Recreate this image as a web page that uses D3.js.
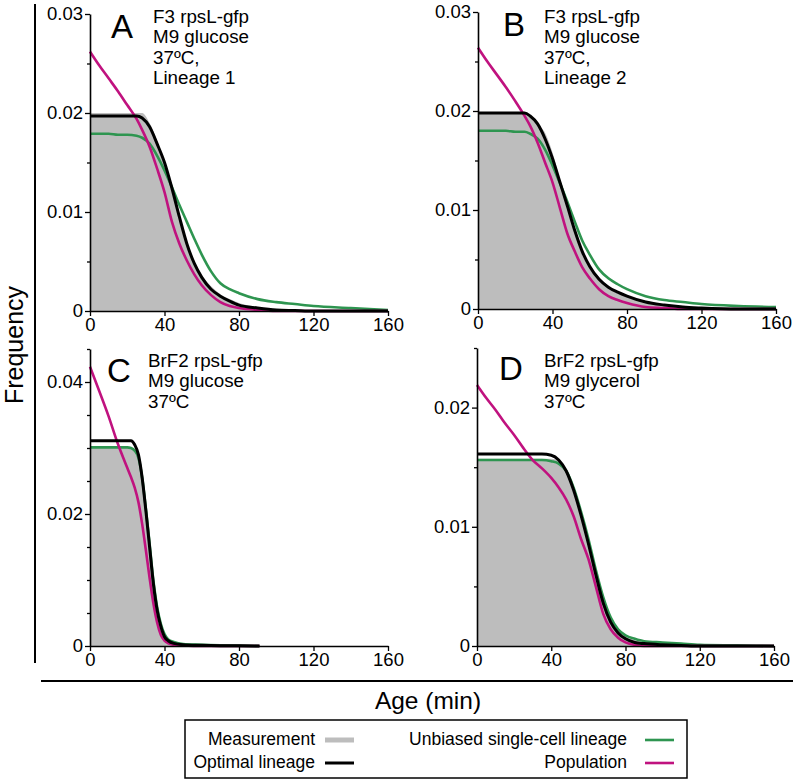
<!DOCTYPE html>
<html>
<head>
<meta charset="utf-8">
<script src="https://cdn.jsdelivr.net/npm/d3@7"></script>
<style>
  body { margin: 0; background: #fff; }
  svg text { font-family: "Liberation Sans", Arial, Helvetica, sans-serif; fill: #000; }
</style>
</head>
<body>
<div id="chart"></div>
<script>
//---------------- data ----------------//
// ages (min) used for each panel
var ageAB = [0,5,10,15,20,25,28,32,36,40,44,48,52,56,60,65,70,75,80,90,100,110,120,140,160];
var ageC  = [0,5,10,15,20,22,24,26,28,30,32,34,36,38,40,42,45,50,60,70,80,91];
var ageD  = [0,5,10,15,20,25,30,35,40,44,48,52,56,60,64,68,72,76,80,85,90,100,110,120,140,160];

// panel A
var measA = [0.0200,0.0200,0.0200,0.0200,0.0200,0.0200,0.0200,0.0190,0.0172,0.0150,0.0125,0.0097,0.0070,0.0050,0.0036,0.0025,0.0017,0.0012,0.0008,0.0004,0.0002,0.0001,0.00005,0,0];
var optA  = [0.0197,0.0197,0.0197,0.0197,0.0197,0.0197,0.0195,0.0186,0.0169,0.0150,0.0124,0.0095,0.0068,0.0048,0.0034,0.0022,0.0015,0.0010,0.0006,0.0003,0.0001,0.00005,0,0,0];
var unbA  = [0.0179,0.0179,0.0179,0.0178,0.0178,0.0177,0.0175,0.0169,0.0157,0.0142,0.0125,0.0107,0.0090,0.0073,0.0057,0.0040,0.0028,0.0022,0.0018,0.0012,0.0009,0.0007,0.0005,0.0003,0.0001];
var popA  = [0.0262,0.0248,0.0235,0.0222,0.0208,0.0194,0.0183,0.0166,0.0144,0.0120,0.0090,0.0068,0.0051,0.0037,0.0026,0.0016,0.0009,0.0005,0.0003,0.0001,0,0,0,0,0];

// panel B
var measB = [0.0197,0.0197,0.0197,0.0197,0.0197,0.0197,0.0195,0.0186,0.0178,0.0158,0.0130,0.0102,0.0078,0.0058,0.0044,0.0032,0.0023,0.0017,0.0012,0.0007,0.0004,0.0002,0.0001,0,0];
var optB  = [0.0198,0.0198,0.0198,0.0198,0.0198,0.0198,0.0195,0.0187,0.0172,0.0152,0.0128,0.0104,0.0079,0.0058,0.0043,0.0030,0.0022,0.0017,0.0013,0.0007,0.0004,0.0002,0.0001,0,0];
var unbB  = [0.0180,0.0180,0.0180,0.0180,0.0179,0.0179,0.0177,0.0172,0.0161,0.0145,0.0127,0.0108,0.0088,0.0069,0.0055,0.0040,0.0031,0.0025,0.0020,0.0013,0.0009,0.0007,0.0005,0.0003,0.0002];
var popB  = [0.0264,0.0250,0.0237,0.0224,0.0210,0.0195,0.0185,0.0168,0.0148,0.0128,0.0102,0.0076,0.0058,0.0042,0.0031,0.0020,0.0013,0.0009,0.0006,0.0002,0.0001,0,0,0,0];

// panel C
var measC = [0.0300,0.0300,0.0300,0.0300,0.0300,0.0300,0.0298,0.0288,0.0257,0.0208,0.0152,0.0098,0.0058,0.0032,0.0016,0.0009,0.0005,0.0002,0.0001,0.0001,0,0];
var optC  = [0.0311,0.0311,0.0311,0.0311,0.0311,0.0311,0.0305,0.0290,0.0255,0.0205,0.0150,0.0095,0.0055,0.0030,0.0014,0.0008,0.0004,0.0002,0.0001,0.00005,0.00003,0];
var unbC  = [0.0301,0.0301,0.0301,0.0301,0.0301,0.0300,0.0296,0.0285,0.0255,0.0208,0.0155,0.0100,0.0060,0.0034,0.0018,0.0010,0.0006,0.0003,0.0002,0.0001,0.00005,0];
var popC  = [0.0423,0.0386,0.0348,0.0306,0.0270,0.0256,0.0240,0.0218,0.0185,0.0145,0.0103,0.0065,0.0036,0.0017,0.0008,0.0004,0.0002,0.0001,0,0,0,0];

// panel D
var measD = [0.0157,0.0157,0.0157,0.0157,0.0157,0.0157,0.0157,0.0157,0.0157,0.0155,0.0148,0.0132,0.0111,0.0087,0.0062,0.0038,0.0022,0.0013,0.0008,0.0005,0.0003,0.0002,0.0001,0.00005,0,0];
var optD  = [0.0161,0.0161,0.0161,0.0161,0.0161,0.0161,0.0161,0.0161,0.0160,0.0156,0.0147,0.0131,0.0110,0.0086,0.0060,0.0036,0.0020,0.0011,0.0006,0.0003,0.0002,0.0001,0.00005,0,0,0];
var unbD  = [0.0156,0.0156,0.0156,0.0156,0.0156,0.0156,0.0156,0.0156,0.0155,0.0153,0.0147,0.0133,0.0113,0.0090,0.0064,0.0041,0.0024,0.0014,0.0009,0.0006,0.0004,0.0003,0.0002,0.0001,0.00005,0];
var popD  = [0.0219,0.0208,0.0198,0.0187,0.0177,0.0166,0.0156,0.0149,0.0141,0.0133,0.0123,0.0109,0.0090,0.0073,0.0050,0.0027,0.0014,0.0007,0.0003,0.0001,0,0,0,0,0,0];

var xTicks = [0,40,80,120,160];
var legendNames = ['Measurement','Optimal lineage','Unbiased single-cell lineage','Population'];
var colors = {meas:'#bdbdbd', opt:'#000000', unb:'#2e9550', pop:'#c0127f'};
//-----------------------------------------------------------//

//---------------- panel layout ----------------//
var panels = [
  {id:'A', age:ageAB, meas:measA, opt:optA, unb:unbA, pop:popA, x0:90, x1:388, yb:311, yt:14, ymax:0.03,
   major:[0,0.01,0.02,0.03], minor:[0.005,0.015,0.025],
   lx:111, ly:38, tx:153, ty:23, text:['F3 rpsL-gfp','M9 glucose','37ºC,','Lineage 1']},
  {id:'B', age:ageAB, meas:measB, opt:optB, unb:unbB, pop:popB, x0:478, x1:776, yb:309, yt:12, ymax:0.03,
   major:[0,0.01,0.02,0.03], minor:[0.005,0.015,0.025],
   lx:503, ly:36, tx:544, ty:23, text:['F3 rpsL-gfp','M9 glucose','37ºC,','Lineage 2']},
  {id:'C', age:ageC, meas:measC, opt:optC, unb:unbC, pop:popC, x0:90, x1:388, yb:646, yt:349, ymax:0.045,
   major:[0,0.02,0.04], minor:[0.005,0.01,0.015,0.025,0.03,0.035,0.045],
   lx:107, ly:382, tx:148, ty:367, text:['BrF2 rpsL-gfp','M9 glucose','37ºC']},
  {id:'D', age:ageD, meas:measD, opt:optD, unb:unbD, pop:popD, x0:477, x1:774, yb:646, yt:348, ymax:0.025,
   major:[0,0.01,0.02], minor:[0.005,0.015,0.025],
   lx:499, ly:380, tx:544, ty:367, text:['BrF2 rpsL-gfp','M9 glycerol','37ºC']}
];

var width = 793, height = 780;
var svg = d3.select('#chart').append('svg')
            .attr('width', width)
            .attr('height', height);

var fmt = function(v){ return v === 0 ? '0' : d3.format('.2f')(v); };

panels.forEach(function(p){
  var x = d3.scaleLinear().domain([0,160]).range([p.x0, p.x1]);
  var y = d3.scaleLinear().domain([0,p.ymax]).range([p.yb, p.yt]);
  var pts = function(vals){ return p.age.map(function(a,i){ return [a, vals[i]]; }); };

  var g = svg.append('g');

  // measurement as grey area
  g.append('path')
    .datum(pts(p.meas))
    .attr('fill', colors.meas)
    .attr('d', d3.area().curve(d3.curveMonotoneX)
                .x(function(d){ return x(d[0]); })
                .y0(y(0))
                .y1(function(d){ return y(d[1]); }));

  var line = d3.line().curve(d3.curveMonotoneX)
                .x(function(d){ return x(d[0]); })
                .y(function(d){ return y(d[1]); });

  [['unb',2.6],['pop',2.6],['opt',3]].forEach(function(s){
    g.append('path')
      .datum(pts(p[s[0]]))
      .attr('fill','none')
      .attr('stroke', colors[s[0]])
      .attr('stroke-width', s[1])
      .attr('stroke-linejoin','round')
      .attr('d', line);
  });

  // axes
  g.append('g').attr('transform','translate(0,'+p.yb+')')
      .call(d3.axisBottom(x).tickValues(xTicks).tickSize(5).tickSizeOuter(0).tickPadding(2));
  g.append('g').attr('transform','translate('+p.x0+',0)')
      .call(d3.axisLeft(y).tickValues(p.major).tickFormat(fmt).tickSize(5).tickSizeOuter(0).tickPadding(2));
  g.append('g').attr('transform','translate('+p.x0+',0)')
      .call(d3.axisLeft(y).tickValues(p.minor).tickFormat('').tickSize(3).tickSizeOuter(0))
      .select('.domain').remove();

  g.selectAll('.domain').attr('stroke','#000').attr('stroke-width',1.6);
  g.selectAll('.tick line').attr('stroke','#000').attr('stroke-width',1.3);
  g.selectAll('.tick text')
    .style('font-family','"Liberation Sans", Arial, sans-serif')
    .style('font-size','18.5px')
    .attr('fill','#000');

  // panel letter and annotation
  g.append('text').attr('x',p.lx).attr('y',p.ly)
    .style('font-size','33px').text(p.id);
  p.text.forEach(function(t,i){
    g.append('text').attr('x',p.tx).attr('y',p.ty + i*20.3)
      .style('font-size','18.8px').text(t);
  });
});

//---------------- shared axis titles ----------------//
svg.append('line').attr('x1',35).attr('x2',35).attr('y1',4).attr('y2',663)
   .attr('stroke','#000').attr('stroke-width',2);
svg.append('text')
   .attr('transform','translate(23,345) rotate(-90)')
   .attr('text-anchor','middle')
   .style('font-size','25px')
   .text('Frequency');

svg.append('line').attr('x1',41).attr('x2',793).attr('y1',681).attr('y2',681)
   .attr('stroke','#000').attr('stroke-width',2);
svg.append('text')
   .attr('x',428).attr('y',709)
   .attr('text-anchor','middle')
   .style('font-size','24.5px')
   .text('Age (min)');

//---------------- legend ----------------//
var lg = svg.append('g');
lg.append('rect').attr('x',185).attr('y',720).attr('width',502).attr('height',58)
  .attr('fill','#fff').attr('stroke','#000').attr('stroke-width',1.5);

var legendItems = [
  {name:legendNames[0], key:'meas', tx:315, sx:325, y:739, w:5},
  {name:legendNames[1], key:'opt',  tx:315, sx:325, y:762, w:3},
  {name:legendNames[2], key:'unb',  tx:627, sx:645, y:739, w:2.6},
  {name:legendNames[3], key:'pop',  tx:627, sx:645, y:762, w:2.6}
];
legendItems.forEach(function(d){
  lg.append('text').attr('x',d.tx).attr('y',d.y+6)
    .attr('text-anchor','end')
    .style('font-size','17.5px')
    .text(d.name);
  lg.append('line').attr('x1',d.sx).attr('x2',d.sx+29)
    .attr('y1',d.y+1).attr('y2',d.y+1)
    .attr('stroke',colors[d.key]).attr('stroke-width',d.w);
});
</script>
</body>
</html>
